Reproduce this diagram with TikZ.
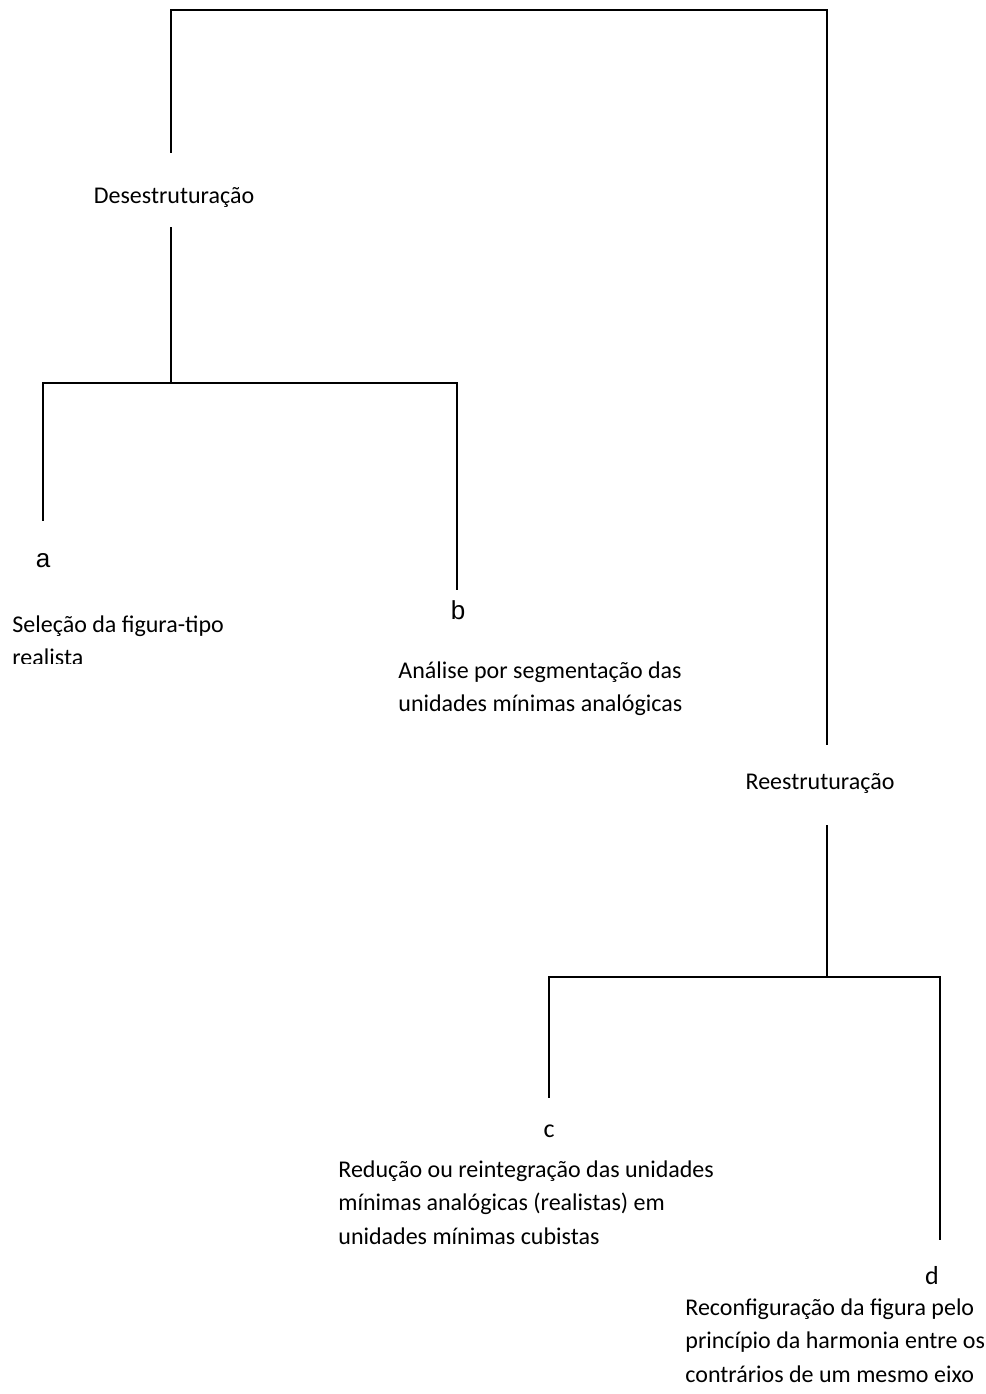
\documentclass[tikz,border=0pt]{standalone}
\usepackage{fontspec}
\setmainfont{Carlito}
\newfontfamily\arialfont{Liberation Sans}
\usetikzlibrary{calc}
\tikzset{
	tree/.style={line width=1pt},
	stage/.style={inner sep=0pt, anchor=base, font=\fontsize{12}{16.75}\selectfont},
	letter/.style={inner sep=0pt, anchor=base, font=\arialfont\fontsize{13}{15}\selectfont},
	letterc/.style={inner sep=0pt, anchor=base, font=\fontsize{13}{15}\selectfont},
	txt/.style={inner sep=0pt, anchor=base west, align=left, font=\fontsize{12}{16.75}\selectfont}
}
\begin{document}
\begin{tikzpicture}[x=0.5pt,y=-0.5pt]
		\useasboundingbox (0,0) rectangle (986,1394);
		\coordinate (tl) at (171,10);
		\coordinate (tr) at (827,10);
		\coordinate (j1) at (171,383);
		\coordinate (j2) at (827,977);
		\node[stage, text height=25pt, text depth=12pt] (des) at (174,203) {Desestruturação};
		\node[stage, text height=22pt, text depth=18pt] (rees) at (820,789) {Reestruturação};
		\node[letter, text height=23pt] (a) at (43,567) {a};
		\node[letter, text height=14.5pt] (b) at (458,619) {b};
		\node[letterc, text height=19.5pt] (c) at (549,1137) {c};
		\node[letterc, text height=22pt] (d) at (932,1284) {d};
		% base of a multi-line node is its last line
		\begin{scope}
			\clip (0,0) rectangle (400,663);
			\node[txt] (sel) at (12,665.5) {Seleção da figura-tipo\\realista};
		\end{scope}
		\node[txt] (ana) at (398,711.5) {Análise por segmentação das\\unidades mínimas analógicas};
		\node[txt] (red) at (338,1244) {Redução ou reintegração das unidades\\mínimas analógicas (realistas) em\\unidades mínimas cubistas};
		\node[txt] (rec) at (685,1382) {Reconfiguração da figura pelo\\princípio da harmonia entre os\\contrários de um mesmo eixo};
		\draw [tree] (tl |- des.north) -- (tl) -- (tr) -- (tr |- rees.north);
		\draw [tree] (j1 |- des.south) -- (j1);
		\draw [tree] (a.north) |- (j1) -| ([xshift=-0.5pt]b.north);
		\draw [tree] (tr |- rees.south) -- (j2);
		\draw [tree] (c.north) |- (j2) -| ([xshift=4pt]d.north);
\end{tikzpicture}
\end{document}
